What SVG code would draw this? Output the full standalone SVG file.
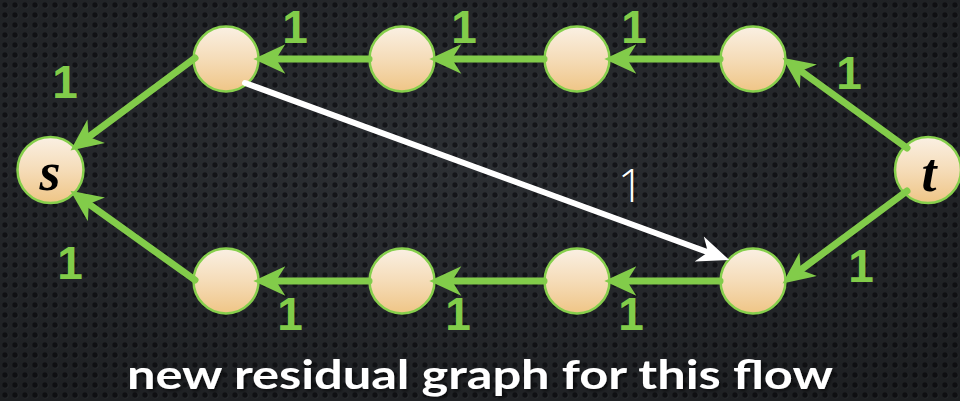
<svg xmlns="http://www.w3.org/2000/svg" width="960" height="401" viewBox="0 0 960 401">
<defs>
  <pattern id="dots" width="10" height="10" patternUnits="userSpaceOnUse">
    <rect width="10" height="10" fill="#2c2f33"/>
    <circle cx="5.6" cy="5.6" r="3" fill="#383b40"/>
    <circle cx="5" cy="5" r="2.7" fill="#15161a"/>
  </pattern>
  <radialGradient id="vig" cx="0.45" cy="0.4" r="0.75">
    <stop offset="0" stop-color="#000" stop-opacity="0"/>
    <stop offset="1" stop-color="#000" stop-opacity="0.35"/>
  </radialGradient>
  <linearGradient id="nodefill" x1="0" y1="0" x2="0" y2="1">
    <stop offset="0" stop-color="#faf0e3"/>
    <stop offset="0.5" stop-color="#f5dcb8"/>
    <stop offset="1" stop-color="#efc586"/>
  </linearGradient>
  <filter id="sh" x="-5%" y="-30%" width="110%" height="160%">
    <feDropShadow dx="2" dy="2" stdDeviation="1.5" flood-color="#000" flood-opacity="0.6"/>
  </filter>
  <marker id="ag" markerUnits="userSpaceOnUse" markerWidth="40" markerHeight="40" viewBox="-10 -15 30 30" refX="0" refY="0" orient="auto" overflow="visible">
    <path d="M17,0 L-7,-11 L0,0 L-7,11 Z" fill="#82cc4a"/>
  </marker>
  <marker id="aw" markerUnits="userSpaceOnUse" markerWidth="40" markerHeight="40" viewBox="-10 -15 30 30" refX="0" refY="0" orient="auto" overflow="visible">
    <path d="M17,0 L-7,-10 L0,0 L-7,10 Z" fill="#ffffff"/>
  </marker>
</defs>
<style>
  .node { fill: url(#nodefill); stroke: #86cf4c; stroke-width: 2.5; }
  .edge { fill: none; stroke: #82cc4a; stroke-width: 7; stroke-linecap: round; marker-end: url(#ag); }
  .wedge { fill: none; stroke: #ffffff; stroke-width: 6; stroke-linecap: round; marker-end: url(#aw); }
  .lbl { font-family: "Liberation Sans", Arial, sans-serif; font-weight: bold; font-size: 46px; fill: #82cc4a; text-anchor: middle; }
  .wlbl { font-family: "Open Sans", "Liberation Sans", sans-serif; font-weight: 300; font-size: 46px; fill: #ffffff; text-anchor: middle; }
  .st { font-family: "Liberation Serif", "DejaVu Serif", serif; font-weight: bold; font-style: italic; font-size: 54px; fill: #000; text-anchor: middle; }
  .cap { font-family: Lato, "DejaVu Sans", sans-serif; font-weight: bold; font-size: 40px; fill: #ffffff; }
</style>
<rect width="960" height="401" fill="url(#dots)"/>
<rect width="960" height="401" fill="url(#vig)"/>

<g id="node-s"><circle class="node" cx="50.5" cy="170" r="33"/><text class="st" x="50" y="190">s</text></g>
<g id="node-t"><circle class="node" cx="928" cy="170" r="33"/><text class="st" x="929" y="191">t</text></g>
<g id="node-a1"><circle class="node" cx="226" cy="59" r="32.5"/></g>
<g id="node-a2"><circle class="node" cx="402" cy="59" r="32.5"/></g>
<g id="node-a3"><circle class="node" cx="577" cy="59" r="32.5"/></g>
<g id="node-a4"><circle class="node" cx="753" cy="59" r="32.5"/></g>
<g id="node-b1"><circle class="node" cx="226" cy="281" r="32.5"/></g>
<g id="node-b2"><circle class="node" cx="402" cy="281" r="32.5"/></g>
<g id="node-b3"><circle class="node" cx="577" cy="281" r="32.5"/></g>
<g id="node-b4"><circle class="node" cx="753" cy="281" r="32.5"/></g>

<g id="connectors">
  <path class="edge" d="M369,59 L276,59"/>
  <path class="edge" d="M544,59 L452,59"/>
  <path class="edge" d="M720,59 L627,59"/>
  <path class="edge" d="M907,148 L800.8,71"/>
  <path class="edge" d="M195,58 L88.7,136.9"/>
  <path class="edge" d="M369,281 L276,281"/>
  <path class="edge" d="M544,281 L452,281"/>
  <path class="edge" d="M720,281 L627,281"/>
  <path class="edge" d="M907,191 L800.7,269.9"/>
  <path class="edge" d="M195,280 L88.8,204"/>
  <path class="wedge" d="M245,83 L708,252.2"/>
</g>

<g id="labels">
  <text class="lbl" x="295" y="43">1</text>
  <text class="lbl" x="464" y="43">1</text>
  <text class="lbl" x="634" y="43">1</text>
  <text class="lbl" x="849" y="89">1</text>
  <text class="lbl" x="65" y="98">1</text>
  <text class="lbl" x="70" y="279">1</text>
  <text class="lbl" x="290" y="330">1</text>
  <text class="lbl" x="458" y="330">1</text>
  <text class="lbl" x="631" y="330">1</text>
  <text class="lbl" x="861" y="282">1</text>
  <text class="wlbl" x="631" y="202">1</text>
</g>

<text class="cap" x="127" y="389" filter="url(#sh)" textLength="706" lengthAdjust="spacingAndGlyphs">new residual graph for this flow</text>
</svg>
